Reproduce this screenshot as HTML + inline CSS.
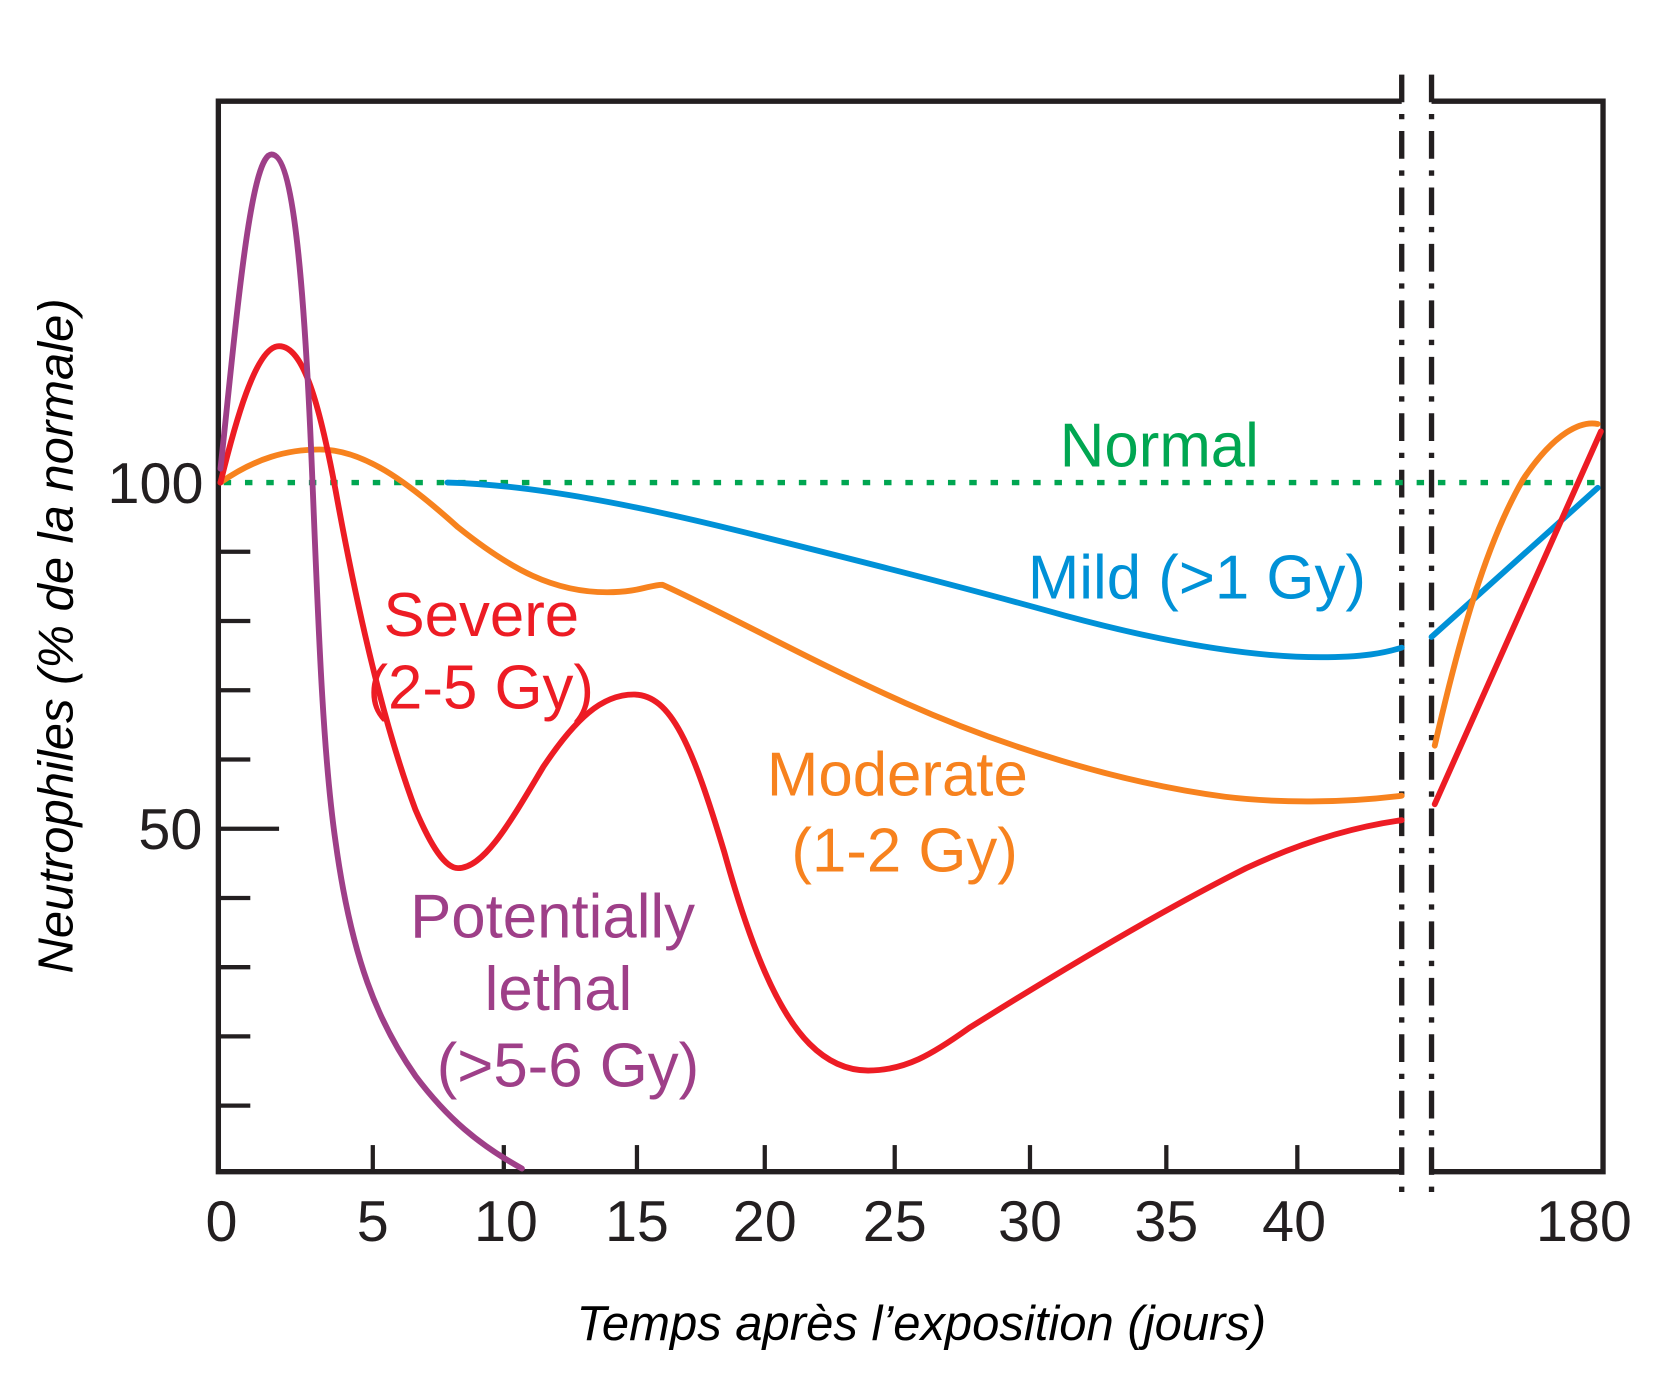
<!DOCTYPE html>
<html><head><meta charset="utf-8"><style>html,body{margin:0;padding:0;background:#fff}svg{display:block}</style></head>
<body>
<svg width="1668" height="1389" viewBox="0 0 1566 1304" preserveAspectRatio="none" xmlns="http://www.w3.org/2000/svg" font-family="Liberation Sans, DejaVu Sans, sans-serif">
<rect width="1566" height="1304" fill="#fff"/>
<g stroke="#231f20" stroke-width="5" fill="none">
<polyline points="1316,95 205,95 205,1100 1316,1100"/>
<polyline points="1344,95 1505,95 1505,1100 1344,1100"/>
<g stroke-width="4">
<line x1="205" y1="518" x2="235" y2="518"/><line x1="205" y1="583" x2="235" y2="583"/>
<line x1="205" y1="648" x2="235" y2="648"/><line x1="205" y1="713" x2="235" y2="713"/>
<line x1="205" y1="778" x2="262" y2="778"/><line x1="205" y1="843" x2="235" y2="843"/>
<line x1="205" y1="908" x2="235" y2="908"/><line x1="205" y1="973" x2="235" y2="973"/>
<line x1="205" y1="1038" x2="235" y2="1038"/>
<line x1="350" y1="1100" x2="350" y2="1075"/><line x1="473" y1="1100" x2="473" y2="1075"/>
<line x1="598" y1="1100" x2="598" y2="1075"/><line x1="718" y1="1100" x2="718" y2="1075"/>
<line x1="840" y1="1100" x2="840" y2="1075"/><line x1="967" y1="1100" x2="967" y2="1075"/>
<line x1="1095" y1="1100" x2="1095" y2="1075"/><line x1="1218" y1="1100" x2="1218" y2="1075"/>
</g>
<g stroke-width="5" stroke-dasharray="26,11,5,11">
<line x1="1316" y1="70" x2="1316" y2="1127"/>
<line x1="1344" y1="70" x2="1344" y2="1127"/>
</g>
</g>
<line x1="210" y1="453" x2="1505" y2="453" stroke="#00a651" stroke-width="5" stroke-dasharray="7,13"/>
<g fill="none" stroke-width="5.5" stroke-linecap="round" stroke-linejoin="round">
<path d="M420,453 C500,455 600,475 700,500 C800,525 900,550 1000,578 C1100,605 1180,617 1240,617 C1280,617 1300,613 1316,608" stroke="#0091d7"/>
<path d="M1344,598 L1500,458" stroke="#0091d7"/>
<path d="M207,453 C240,430 270,422 300,422 C340,422 380,450 430,495 C480,535 520,556 570,556 C600,556 610,549 622,549 C680,575 760,620 850,660 C940,700 1050,735 1150,748 C1200,754 1260,754 1316,747" stroke="#f7821e"/>
<path d="M1347,700 C1370,600 1395,510 1430,450 C1460,405 1485,395 1500,398" stroke="#f7821e"/>
<path d="M207,453 C220,400 240,325 262,325 C285,325 300,380 315,460 C335,570 360,680 390,760 C405,795 418,815 430,815 C455,815 480,770 510,720 C540,675 565,652 595,652 C630,652 650,700 680,800 C705,890 730,950 760,980 C780,1000 800,1005 815,1005 C850,1005 875,990 910,965 C990,915 1090,855 1170,815 C1230,787 1280,775 1316,770" stroke="#ed1c24"/>
<path d="M1347,755 L1503,405" stroke="#ed1c24"/>
<path d="M207,440 C222,300 235,145 255,145 C275,145 285,260 292,420 C298,560 302,700 315,790 C330,900 355,960 390,1010 C420,1050 450,1075 490,1097" stroke="#9e3f88"/>
</g>
<g font-size="58">
<text x="995" y="438" fill="#00a651">Normal</text>
<text x="965" y="562" fill="#0091d7">Mild (&gt;1 Gy)</text>
<text x="360" y="597" fill="#ed1c24">Severe</text>
<text x="345" y="665" fill="#ed1c24">(2-5 Gy)</text>
<text x="720" y="747" fill="#f7821e">Moderate</text>
<text x="743" y="818" fill="#f7821e">(1-2 Gy)</text>
<text x="385" y="880" fill="#9e3f88">Potentially</text>
<text x="455" y="948" fill="#9e3f88">lethal</text>
<text x="410" y="1020" fill="#9e3f88">(&gt;5-6 Gy)</text>
</g>
<g font-size="54" fill="#231f20" text-anchor="middle">
<text x="146" y="472">100</text>
<text x="160" y="797">50</text>
<text x="208" y="1165">0</text>
<text x="350" y="1165">5</text>
<text x="475" y="1165">10</text>
<text x="598" y="1165">15</text>
<text x="718" y="1165">20</text>
<text x="840" y="1165">25</text>
<text x="967" y="1165">30</text>
<text x="1095" y="1165">35</text>
<text x="1215" y="1165">40</text>
<text x="1487" y="1165">180</text>
</g>
<text x="865" y="1258" font-size="46" font-style="italic" text-anchor="middle" fill="#000">Temps après l’exposition (jours)</text>
<text transform="translate(68,597) rotate(-90)" font-size="46" font-style="italic" text-anchor="middle" fill="#000">Neutrophiles (% de la normale)</text>
</svg>
</body></html>
